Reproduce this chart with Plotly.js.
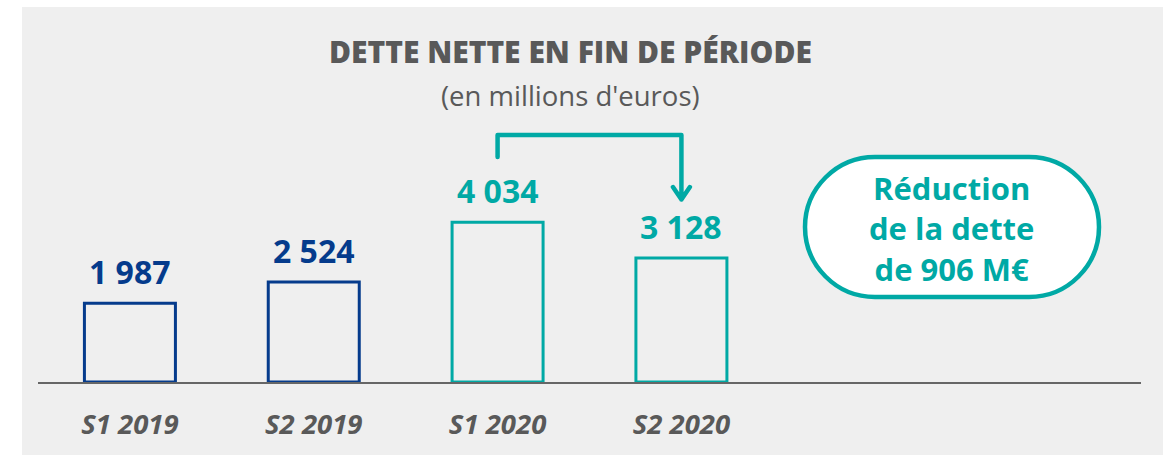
<!DOCTYPE html>
<html>
<head>
<meta charset="utf-8">
<script src="https://cdn.plot.ly/plotly-3.0.1.min.js"></script>
<style>
  html, body { margin: 0; padding: 0; background: #ffffff; width: 1163px; height: 455px; overflow: hidden; }
  #chart { position: absolute; left: 22px; top: 7px; width: 1141px; height: 448px; }
  .shapelayer path { stroke-linejoin: round; stroke-linecap: round; }
</style>
</head>
<body>
<div id="chart"></div>
<script>
// ---- data ----
const categories = ['S1 2019', 'S2 2019', 'S1 2020', 'S2 2020'];
const values = [1987, 2524, 4034, 3128];
const barColors = ['#053b8c', '#053b8c', '#00a9a5', '#00a9a5'];
const titleText = 'DETTE NETTE EN FIN DE PÉRIODE';
const subtitleText = "(en millions d'euros)";

const TEAL = '#00a9a5';
const GREY_TEXT = '#595959';
const BG = '#efefef';

function fmt(v) { return String(v).replace(/\B(?=(\d{3})+(?!\d))/g, ' '); }

const xIdx = categories.map((_, i) => i);
const reduction = values[2] - values[3];

// plot-area geometry (page pixels) used for decorations in paper coords
const PL = 38, PW = 1103, PB = 382, PH = 317;
const px = X => (X - PL) / PW;
const py = Y => (PB - Y) / PH;
function pt(X, Y) { return px(X).toFixed(5) + ',' + py(Y).toFixed(5); }
function pill(x0, y0, x1, y1) {
  const r = (y1 - y0) / 2, k = 0.5523 * r, yc = y0 + r;
  return 'M ' + pt(x0 + r, y0) +
    ' L ' + pt(x1 - r, y0) +
    ' C ' + pt(x1 - r + k, y0) + ' ' + pt(x1, yc - k) + ' ' + pt(x1, yc) +
    ' C ' + pt(x1, yc + k) + ' ' + pt(x1 - r + k, y1) + ' ' + pt(x1 - r, y1) +
    ' L ' + pt(x0 + r, y1) +
    ' C ' + pt(x0 + r - k, y1) + ' ' + pt(x0, yc + k) + ' ' + pt(x0, yc) +
    ' C ' + pt(x0, yc - k) + ' ' + pt(x0 + r - k, y0) + ' ' + pt(x0 + r, y0) + ' Z';
}

const trace = {
  type: 'bar',
  x: xIdx,
  y: values,
  width: 0.495,
  marker: { color: 'rgba(0,0,0,0)', line: { color: barColors, width: 3 } },
  cliponaxis: false,
  hoverinfo: 'none'
};

const annotations = values.map((v, i) => ({
  x: i, y: v, xref: 'x', yref: 'y',
  text: fmt(v), showarrow: false,
  xanchor: 'center', yanchor: 'bottom', yshift: 8,
  font: { family: 'Open Sans', size: 32, color: barColors[i], weight: 'bold' }
}));

annotations.push({
  x: px(570), y: py(51.7), xref: 'paper', yref: 'paper',
  text: titleText, showarrow: false, xanchor: 'center', yanchor: 'middle',
  font: { family: 'Open Sans', size: 30, color: GREY_TEXT, weight: 800 }
});
annotations.push({
  x: px(570), y: py(96), xref: 'paper', yref: 'paper',
  text: subtitleText, showarrow: false, xanchor: 'center', yanchor: 'middle',
  font: { family: 'Open Sans', size: 27.5, color: GREY_TEXT }
});
annotations.push({
  x: px(951), y: py(228), xref: 'paper', yref: 'paper',
  text: 'Réduction<br>de la dette<br>de ' + reduction + ' M€', showarrow: false,
  xanchor: 'center', yanchor: 'middle', align: 'center',
  font: { family: 'Open Sans', size: 31, color: TEAL, weight: 'bold' }
});

const shapes = [
  {
    type: 'path', xref: 'paper', yref: 'paper',
    path: pill(805, 157, 1099, 297),
    fillcolor: '#ffffff', line: { color: TEAL, width: 4.5 }, layer: 'above'
  },
  {
    type: 'path', xref: 'x', yref: 'y',
    path: 'M 2,5678 L 2,6233 L 3,6233 L 3,4606 M 2.954,4921 L 3,4606 L 3.046,4921',
    line: { color: TEAL, width: 4.5 }, layer: 'above'
  }
];

const layout = {
  width: 1141, height: 448,
  margin: { l: 16, r: 22, t: 58, b: 73 },
  paper_bgcolor: BG, plot_bgcolor: BG,
  showlegend: false,
  xaxis: {
    range: [-0.5, 5.5], tickvals: xIdx, ticktext: categories,
    showgrid: false, zeroline: false,
    showline: true, linecolor: '#666666', linewidth: 2, layer: 'below traces',
    ticks: 'outside', ticklen: 17, tickcolor: 'rgba(0,0,0,0)',
    tickfont: { family: 'Open Sans', size: 27.5, color: GREY_TEXT, weight: 'bold', style: 'italic' },
    fixedrange: true
  },
  yaxis: { range: [0, 8000], visible: false, fixedrange: true },
  annotations: annotations,
  shapes: shapes
};

Plotly.newPlot('chart', [trace], layout, { staticPlot: true, displayModeBar: false });
</script>
</body>
</html>
